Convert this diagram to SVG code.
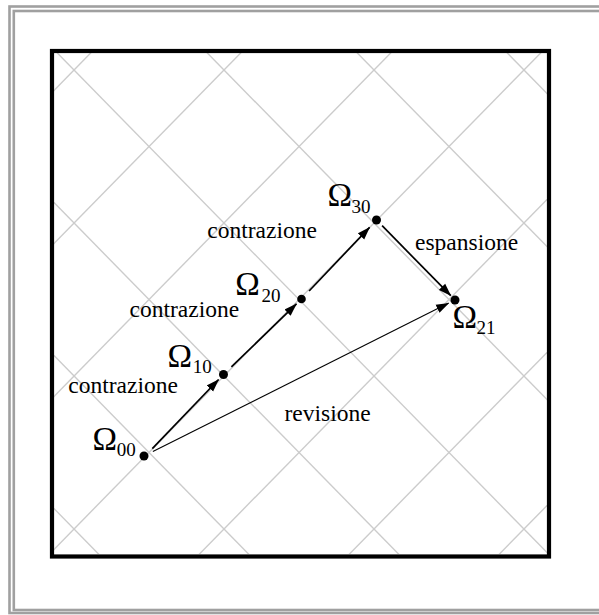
<svg xmlns="http://www.w3.org/2000/svg" width="599" height="615" viewBox="0 0 599 615">
  <style>
    .frame { fill: none; stroke: #a0a0a0; stroke-width: 2.6; }
    .grid line { stroke: #cccccc; stroke-width: 1.4; }
    .box { fill: none; stroke: #000; stroke-width: 4.2; }
    .dot { fill: #000; }
    .conn path { fill: none; stroke: #000; }
    .thick { stroke-width: 1.7; }
    .thin { stroke-width: 1.1; }
    text { font-family: "Liberation Serif", "Times New Roman", serif; fill: #000; }
    .om { font-size: 33px; }
    .sub { font-size: 19px; }
    .lab { font-size: 23.5px; }
  </style>
  <defs>
    <marker id="ah" markerUnits="userSpaceOnUse" viewBox="0 0 13 10" refX="12.5" refY="5" markerWidth="13" markerHeight="10" orient="auto">
      <path d="M0,0.6 L13,5 L0,9.4 Z" fill="#000"/>
    </marker>
    <clipPath id="clipbox">
      <rect x="54" y="53" width="493" height="501"/>
    </clipPath>
  </defs>

  <rect width="599" height="615" fill="#fff"/>

  <!-- outer double frame -->
  <g id="frame">
    <rect class="frame" x="9.5" y="6.5" width="620" height="606.5"/>
    <rect class="frame" x="13.8" y="11" width="610" height="599"/>
  </g>

  <!-- diagonal grid -->
  <g class="grid" clip-path="url(#clipbox)">
    <line x1="-451" y1="-6.5" x2="149" y2="605.5"/>
    <line x1="-301" y1="-6.5" x2="299" y2="605.5"/>
    <line x1="-151" y1="-6.5" x2="449" y2="605.5"/>
    <line x1="-1" y1="-6.5" x2="599" y2="605.5"/>
    <line x1="149" y1="-6.5" x2="749" y2="605.5"/>
    <line x1="299" y1="-6.5" x2="899" y2="605.5"/>
    <line x1="449" y1="-6.5" x2="1049" y2="605.5"/>
    <line x1="149" y1="-6.5" x2="-451" y2="605.5"/>
    <line x1="299" y1="-6.5" x2="-301" y2="605.5"/>
    <line x1="449" y1="-6.5" x2="-151" y2="605.5"/>
    <line x1="599" y1="-6.5" x2="-1" y2="605.5"/>
    <line x1="749" y1="-6.5" x2="149" y2="605.5"/>
    <line x1="899" y1="-6.5" x2="299" y2="605.5"/>
    <line x1="1049" y1="-6.5" x2="449" y2="605.5"/>
  </g>

  <rect class="box" x="52" y="51" width="497" height="505.5"/>

  <!-- connectors -->
  <g id="connectors" class="conn">
    <path class="thick" d="M152.3,448.6 L218.6,379.5" marker-end="url(#ah)"/>
    <path class="thick" d="M231.4,366.9 L296.5,303.9" marker-end="url(#ah)"/>
    <path class="thick" d="M309.1,291 L369.6,227.3" marker-end="url(#ah)"/>
    <path class="thick" d="M382.1,225.7 L450.8,295.7" marker-end="url(#ah)"/>
    <path class="thin" d="M152.9,451.5 L448.7,303.1" marker-end="url(#ah)"/>
  </g>

  <!-- edge labels -->
  <g id="labels">
    <text class="lab" x="207.3" y="238.3">contrazione</text>
    <text class="lab" x="129.5" y="316.5">contrazione</text>
    <text class="lab" x="68.3" y="393.3">contrazione</text>
    <text class="lab" x="415" y="250">espansione</text>
    <text class="lab" x="284.5" y="420.5">revisione</text>
  </g>

  <!-- nodes -->
  <g id="n00">
    <circle class="dot" cx="144" cy="456" r="4.5"/>
    <text class="om" x="92.5" y="450">Ω<tspan class="sub" x="116.7" y="455.5">00</tspan></text>
  </g>
  <g id="n10">
    <circle class="dot" cx="223.5" cy="374.5" r="4.5"/>
    <text class="om" x="167.5" y="366.7">Ω<tspan class="sub" x="192.7" y="372.7">10</tspan></text>
  </g>
  <g id="n20">
    <circle class="dot" cx="301.5" cy="299" r="4.3"/>
    <text class="om" x="235.3" y="295">Ω<tspan class="sub" x="261.5" y="301.7">20</tspan></text>
  </g>
  <g id="n30">
    <circle class="dot" cx="376.5" cy="220" r="4.5"/>
    <text class="om" x="327.5" y="206">Ω<tspan class="sub" x="351.5" y="213.3">30</tspan></text>
  </g>
  <g id="n21">
    <circle class="dot" cx="455" cy="300" r="4.5"/>
    <text class="om" x="452.5" y="328.3">Ω<tspan class="sub" x="476.5" y="333.5">21</tspan></text>
  </g>
</svg>
